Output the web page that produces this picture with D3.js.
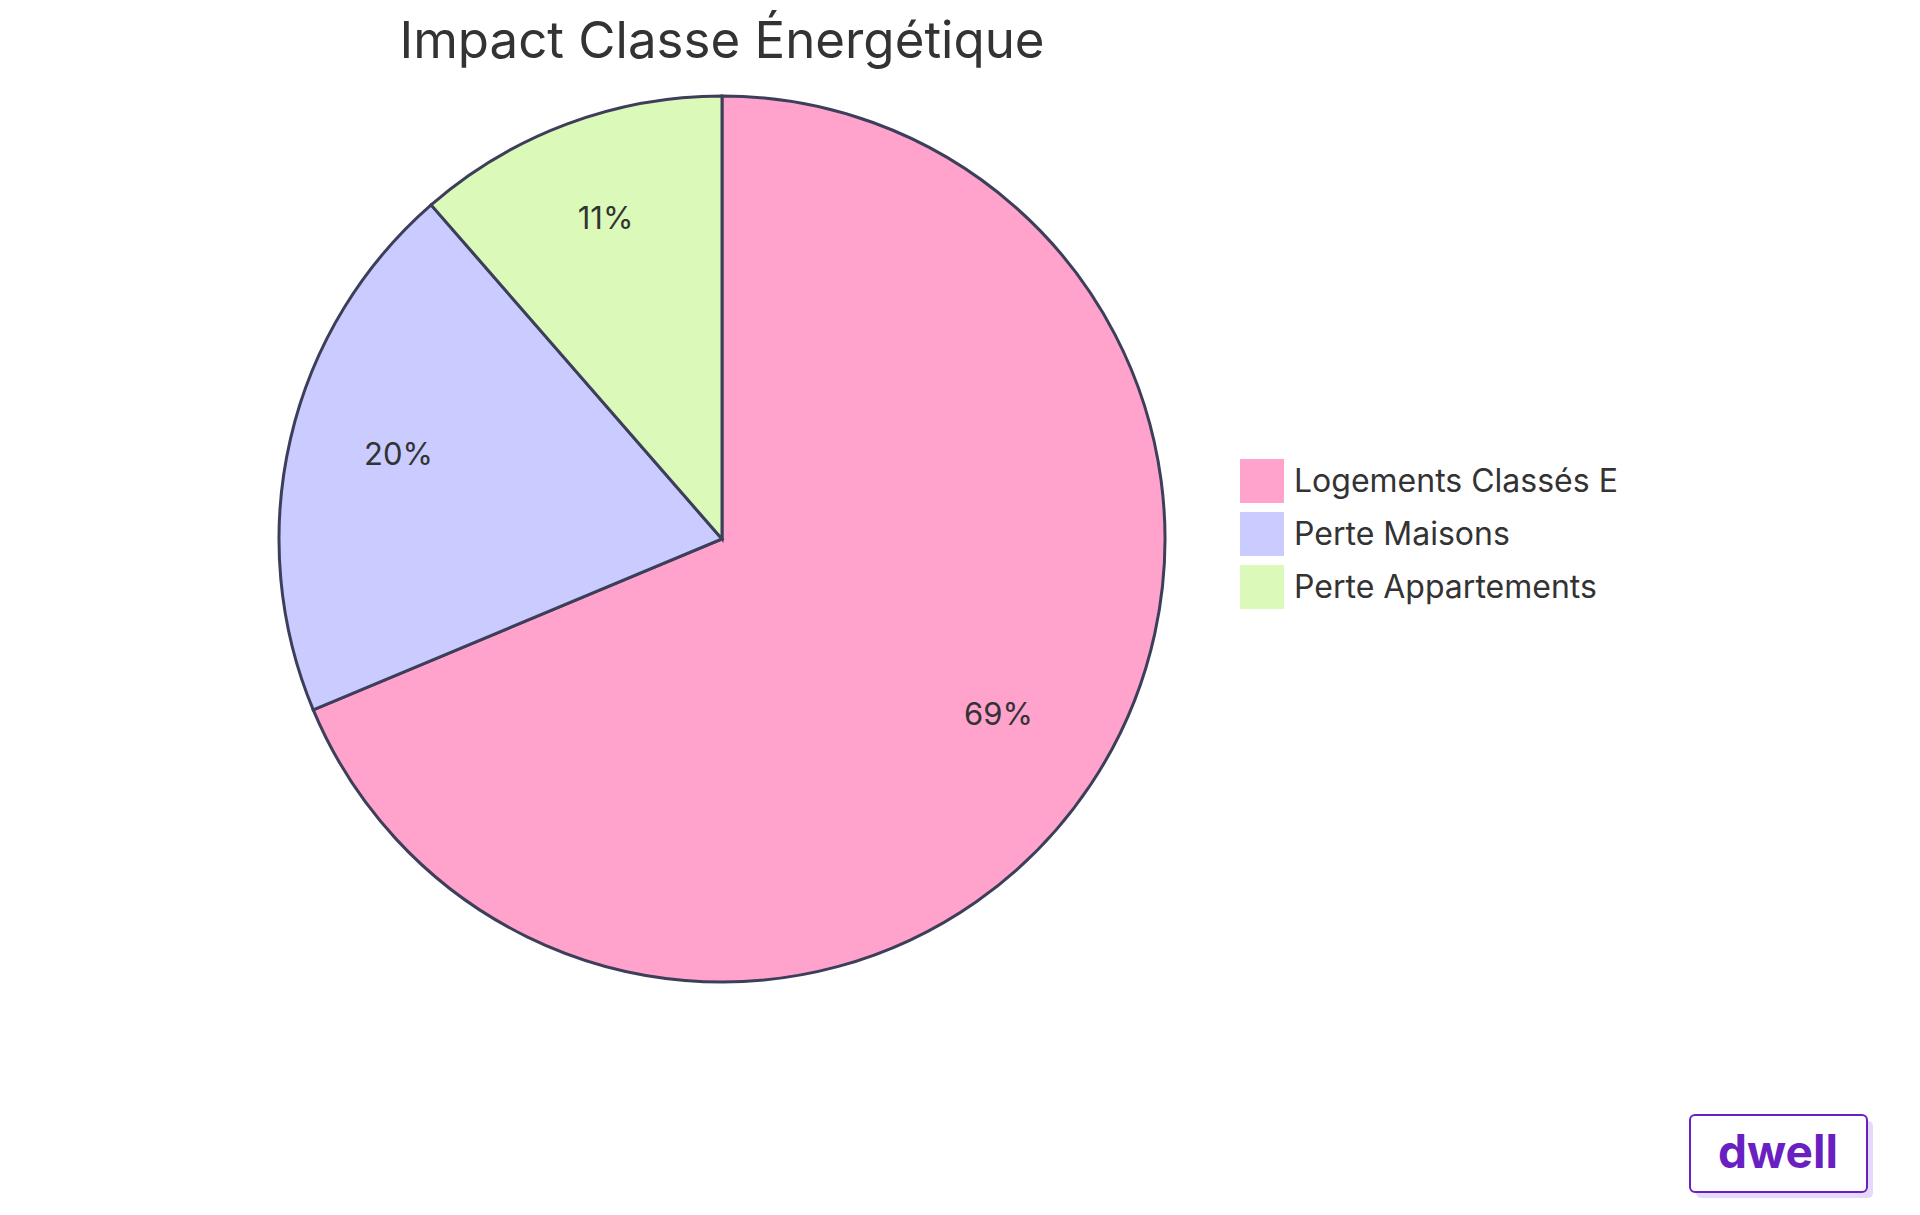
<!DOCTYPE html><html><head><meta charset="utf-8"><script src="https://cdn.jsdelivr.net/npm/d3@7"></script>
<style>body{margin:0;background:#fff}text{font-family:Inter,"Open Sans",sans-serif}</style></head><body>
<svg id="c" width="1920" height="1215"></svg>
<script>
const categories=["Logements Classés E","Perte Maisons","Perte Appartements"];
const values=[68.7,19.9,11.4];
const colors=["#FFA3CD","#CACBFF","#DBFABA"];
const svg=d3.select("#c");
const cx=722,cy=539,r=443;
svg.append("text").attr("x",722).attr("y",58).attr("text-anchor","middle").attr("font-size",51).attr("fill","#333").text("Impact Classe Énergétique");
const total=d3.sum(values);
const pie=d3.pie().sort(null)(values);
const arc=d3.arc().innerRadius(0).outerRadius(r);
const g=svg.append("g").attr("transform",`translate(${cx},${cy})`);
g.selectAll("path").data(pie).join("path").attr("d",arc).attr("fill",(d,i)=>colors[i]).attr("stroke","#3d3f5a").attr("stroke-width",3);
const la=d3.arc().innerRadius(r*0.75).outerRadius(r*0.75);
g.selectAll("text.l").data(pie).join("text").attr("transform",d=>`translate(${la.centroid(d)})`).attr("text-anchor","middle").attr("dy","0.05em").attr("font-size",31).attr("fill","#333").text(d=>Math.round(d.data/total*100)+"%");
const lg=svg.append("g");
categories.forEach((c,i)=>{const y=459+i*53;
lg.append("rect").attr("x",1240).attr("y",y).attr("width",44).attr("height",44).attr("fill",colors[i]);
lg.append("text").attr("x",1294).attr("y",y+22).attr("dy","0.35em").attr("font-size",32).attr("fill","#333").text(c);});
svg.append("rect").attr("x",1696).attr("y",1121).attr("width",177).attr("height",77).attr("rx",5).attr("fill","#e6dafa");
svg.append("rect").attr("x",1690).attr("y",1115).attr("width",177).attr("height",77).attr("rx",5).attr("fill","#fff").attr("stroke","#6a1fc2").attr("stroke-width",2);
svg.append("text").attr("x",1778).attr("y",1168).attr("text-anchor","middle").attr("font-size",46).attr("font-weight",700).attr("fill","#6a1fc2").text("dwell");
</script></body></html>
